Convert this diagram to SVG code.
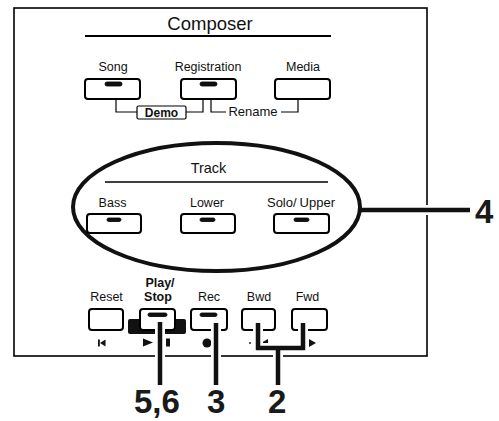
<svg xmlns="http://www.w3.org/2000/svg" width="499" height="421" viewBox="0 0 499 421">
<style>
.lbl{font-family:"Liberation Sans",Arial,sans-serif;font-size:12.5px;fill:#111;text-anchor:middle}
.bold{font-weight:bold}
.btn{fill:#fff;stroke:#000;stroke-width:2}
.led{fill:#111;stroke:#000;stroke-width:0.8}
.thin{fill:none;stroke:#000;stroke-width:1.2}
.halo{fill:none;stroke:#fff;stroke-width:10}
.lead{fill:none;stroke:#111;stroke-width:4.5}
.num{font-family:"Liberation Sans",Arial,sans-serif;font-weight:bold;font-size:33px;fill:#1a1a1a}
.ico{fill:#111}
</style>
<rect width="499" height="421" fill="#fff"/>
<g id="frame">
<rect x="14" y="8" width="413" height="348" fill="none" stroke="#000" stroke-width="1.6"/>
</g>
<g id="composer">
<text class="lbl" x="210" y="30" style="font-size:18.5px">Composer</text>
<line x1="85" y1="36" x2="331" y2="36" stroke="#000" stroke-width="2.2"/>
</g>
<g id="song">
<text class="lbl" x="113" y="71">Song</text>
<rect class="btn" x="85" y="79" width="55" height="20" rx="3"/>
<rect class="led" x="105" y="82" width="17" height="4" rx="2"/>
</g>
<g id="registration">
<text class="lbl" x="208" y="71">Registration</text>
<rect class="btn" x="181" y="79" width="55" height="20" rx="3"/>
<rect class="led" x="200" y="82" width="17" height="4" rx="2"/>
</g>
<g id="media">
<text class="lbl" x="303" y="71">Media</text>
<rect class="btn" x="275" y="79" width="55" height="20" rx="3"/>
</g>
<g id="demo">
<rect x="137" y="106" width="49" height="13" rx="1.5" fill="#fff" stroke="#000" stroke-width="1.2"/>
<text class="lbl bold" x="161.5" y="117" style="font-size:12px">Demo</text>
</g>
<g id="rename">
<text class="lbl" x="253" y="116" style="font-size:13px">Rename</text>
</g>
<g id="track">
<ellipse cx="216.5" cy="207" rx="143.5" ry="64" fill="none" stroke="#111" stroke-width="4"/>
<text class="lbl" x="208.5" y="173" style="font-size:14.5px">Track</text>
<line x1="105" y1="182" x2="328" y2="182" stroke="#000" stroke-width="1.5"/>
</g>
<g id="bass">
<text class="lbl" x="112.5" y="207">Bass</text>
<rect class="btn" x="87" y="214" width="54" height="19" rx="3"/>
<rect class="led" x="107" y="218" width="14" height="3.5" rx="1.7"/>
</g>
<g id="lower">
<text class="lbl" x="207" y="207">Lower</text>
<rect class="btn" x="181" y="214" width="54" height="19" rx="3"/>
<rect class="led" x="200" y="218" width="15" height="3.5" rx="1.7"/>
</g>
<g id="soloupper">
<text class="lbl" x="301" y="207" style="font-size:13px">Solo/<tspan dx="3">Upper</tspan></text>
<rect class="btn" x="274" y="214" width="55" height="19" rx="3"/>
<rect class="led" x="294" y="218" width="15" height="3.5" rx="1.7"/>
</g>
<g id="reset">
<text class="lbl" x="106.5" y="301">Reset</text>
<rect class="btn" x="89" y="309" width="34" height="21" rx="3"/>
<rect class="ico" x="98" y="339.5" width="1.8" height="7"/>
<polygon class="ico" points="100,343 105.5,339.5 105.5,346.5"/>
</g>
<g id="playstop">
<text class="lbl bold" x="160" y="287">Play/</text>
<text class="lbl bold" x="158" y="301">Stop</text>
<rect x="128" y="319" width="58" height="15" rx="2" fill="#111"/>
<rect class="btn" x="140" y="309" width="35" height="21" rx="3"/>
<rect class="led" x="148" y="313" width="19" height="3.5" rx="1.7"/>
<polygon class="ico" points="143,338.5 153,342.5 143,346.5"/>
<rect class="ico" x="166" y="338.5" width="4" height="8"/>
</g>
<g id="rec">
<text class="lbl" x="209" y="301">Rec</text>
<rect class="btn" x="191" y="309" width="36" height="21" rx="3"/>
<rect class="led" x="200" y="313" width="17" height="3.5" rx="1.7"/>
<circle class="ico" cx="207" cy="343" r="4.5"/>
</g>
<g id="bwd">
<text class="lbl" x="259" y="301">Bwd</text>
<rect class="btn" x="242" y="309" width="33" height="21" rx="3"/>
<circle class="ico" cx="250" cy="343" r="0.9"/>
<polygon class="ico" points="261,343 268,339 268,347"/>
</g>
<g id="fwd">
<text class="lbl" x="307.5" y="301">Fwd</text>
<rect class="btn" x="292" y="309" width="35" height="21" rx="3"/>
<polygon class="ico" points="309,339 316,343 309,347"/>
</g>
<g id="connectors">
<path class="thin" d="M116,99 V112 H137"/>
<path class="thin" d="M186,112 H203 V99"/>
<path class="thin" d="M211,99 V112 H226"/>
<path class="thin" d="M281,112 H298 V99"/>
<line class="halo" x1="420" y1="210" x2="434" y2="210"/>
<line class="lead" x1="359" y1="210" x2="470" y2="210"/>
<path class="halo" d="M160,322 V385"/>
<path class="halo" d="M216,323 V385"/>
<path class="halo" d="M258,323 V348 H303 V323 M278,348 V385"/>
<path class="lead" d="M160,322 V385"/>
<path class="lead" d="M216,323 V385"/>
<path class="lead" d="M258,323 V348 H303 V323 M278,348 V385"/>
</g>
<g id="labels">
<text class="num" x="475" y="223">4</text>
<text class="num" x="134" y="413">5,6</text>
<text class="num" x="207" y="413">3</text>
<text class="num" x="268" y="413">2</text>
</g>
</svg>
